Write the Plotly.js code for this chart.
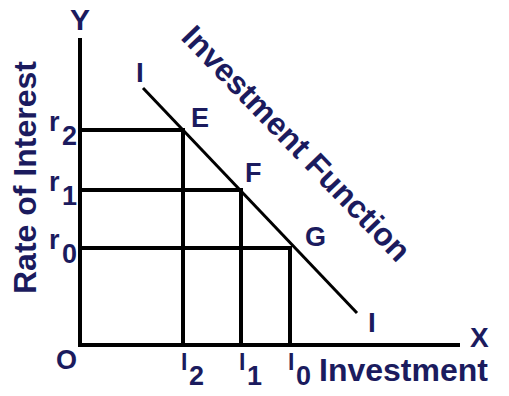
<!DOCTYPE html>
<html>
<head>
<meta charset="utf-8">
<script src="https://cdn.plot.ly/plotly-3.0.1.min.js"></script>
<style>html,body{margin:0;padding:0;background:#fff;}#chart{width:509px;height:396px;}</style>
</head>
<body>
<div id="chart"></div>
<script>
// Investment levels (x) and interest rates (y) at points E, F, G
const pointNames = ["E", "F", "G"];
const investment = [2.06, 3.22, 4.2];      // I2, I1, I0
const interest = [4.3, 3.1, 1.94];          // r2, r1, r0
const xTickLetters = ["I", "I", "I"];
const xTickSubs = ["2", "1", "0"];
const yTickLetters = ["r", "r", "r"];
const yTickSubs = ["2", "1", "0"];
// Investment function endpoints
const curveX = [1.26, 5.54];
const curveY = [5.14, 0.64];
const axisXMax = 7.6;
const axisYMax = 6.14;

const NAVY = "#1b1b5e";
const FONT = "Liberation Sans, Arial, sans-serif";
const traces = [];
// axes
traces.push({x: [0, 0, axisXMax], y: [axisYMax, 0, 0], mode: "lines",
  line: {color: "#000", width: 4}, hoverinfo: "skip"});
// guide lines
for (let i = 0; i < investment.length; i++) {
  traces.push({x: [0, investment[i], investment[i]], y: [interest[i], interest[i], 0],
    mode: "lines", line: {color: "#000", width: 4}, hoverinfo: "skip"});
}
// investment function
traces.push({x: curveX, y: curveY, mode: "lines", line: {color: "#000", width: 3}, hoverinfo: "skip"});

function ann(x, y, text, size, extra) {
  return Object.assign({x: x, y: y, xref: "x", yref: "y", text: "<b>" + text + "</b>",
    showarrow: false, borderpad: 0, font: {family: FONT, size: size, color: NAVY}}, extra || {});
}
const anns = [];
anns.push(ann(0, axisYMax + 0.38, "Y", 30));
anns.push(ann(axisXMax + 0.38, 0.16, "X", 28));
anns.push(ann(-0.28, -0.3, "O", 27));
anns.push(ann(curveX[0] - 0.06, curveY[0] + 0.32, "I", 28));
anns.push(ann(curveX[1] + 0.3, curveY[1] - 0.18, "I", 28));
const ptOff = [[0.34, 0.24], [0.24, 0.34], [0.5, 0.22]];
for (let i = 0; i < pointNames.length; i++) {
  anns.push(ann(investment[i] + ptOff[i][0], interest[i] + ptOff[i][1], pointNames[i], 27));
}
for (let i = 0; i < investment.length; i++) {
  anns.push(ann(investment[i] + 0.1, -0.34, xTickLetters[i], 23, {xanchor: "right"}));
  anns.push(ann(investment[i] + 0.1, -0.62, xTickSubs[i], 27, {xanchor: "left"}));
  anns.push(ann(-0.38, interest[i] + 0.17, yTickLetters[i], 27, {xanchor: "right"}));
  anns.push(ann(-0.38, interest[i] - 0.12, yTickSubs[i], 27, {xanchor: "left"}));
}
anns.push(ann(4.76, -0.5, "Investment", 32, {xanchor: "left"}));
anns.push(ann(-1.1, 3.34, "Rate of Interest", 32, {textangle: -90}));
anns.push(ann(4.32, 4.04, "Investment Function", 32, {textangle: 46}));

const layout = {
  width: 509, height: 396, margin: {l: 0, r: 0, t: 0, b: 0},
  paper_bgcolor: "#fff", plot_bgcolor: "#fff", showlegend: false,
  xaxis: {range: [-1.6, 8.58], visible: false, fixedrange: true},
  yaxis: {range: [-1.02, 6.9], visible: false, fixedrange: true},
  annotations: anns
};
Plotly.newPlot("chart", traces, layout, {displayModeBar: false, staticPlot: true});
</script>
</body>
</html>
